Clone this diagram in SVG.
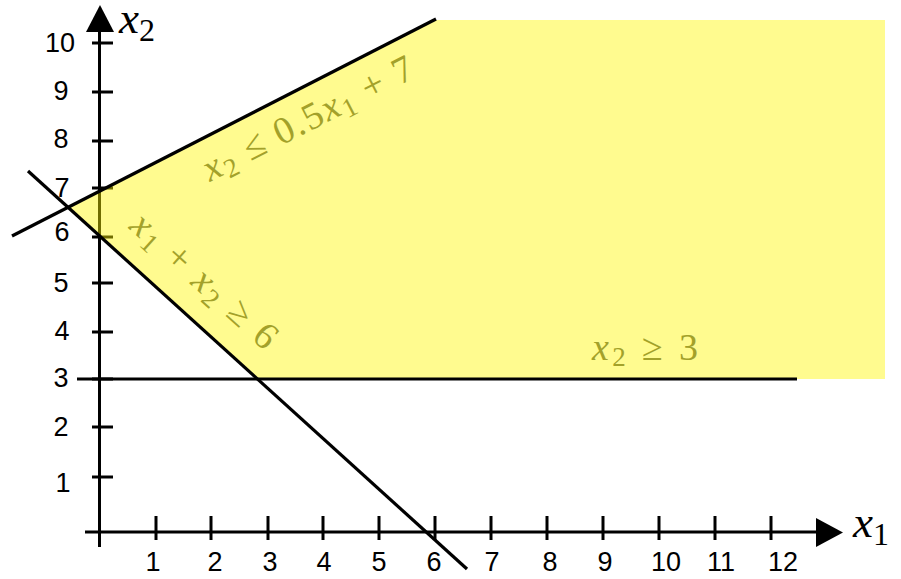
<svg xmlns="http://www.w3.org/2000/svg" width="901" height="579" viewBox="0 0 901 579">
<style>
.ax{stroke:#000;stroke-width:3;fill:none}
.tk{stroke:#000;stroke-width:3}
.num{font-family:"Liberation Sans",Arial,sans-serif;font-size:27px;fill:#000;text-anchor:middle}
.ln{stroke:#000;stroke-width:3.2;fill:none;stroke-linecap:butt}
.math{font-family:"Liberation Serif","Times New Roman",serif;font-size:38px;fill:#a3a12a}
.axl{font-family:"Liberation Serif","Times New Roman",serif;font-size:45px;fill:#000}
.it{font-style:italic}
</style>
<rect width="901" height="579" fill="#fff"/>
<g id="axes">
<line class="ax" x1="99.5" y1="30" x2="99.5" y2="547"/>
<line class="ax" x1="85" y1="532" x2="818" y2="532"/>
<polygon points="100,5 86,32 114,32" fill="#000"/>
<polygon points="843,532.5 816,518 816,547" fill="#000"/>
<text class="axl" x="119" y="33"><tspan class="it">x</tspan><tspan font-size="32" dy="8">2</tspan></text>
<text class="axl" x="853" y="537"><tspan class="it">x</tspan><tspan font-size="32" dy="8">1</tspan></text>
</g>
<g id="y-ticks">
<line class="tk" x1="92" y1="43" x2="113" y2="43"/>
<line class="tk" x1="92" y1="92" x2="113" y2="92"/>
<line class="tk" x1="92" y1="141" x2="113" y2="141"/>
<line class="tk" x1="92" y1="188" x2="113" y2="188"/>
<line class="tk" x1="92" y1="237" x2="113" y2="237"/>
<line class="tk" x1="92" y1="283" x2="113" y2="283"/>
<line class="tk" x1="92" y1="332" x2="113" y2="332"/>
<line class="tk" x1="92" y1="379" x2="113" y2="379"/>
<line class="tk" x1="92" y1="427" x2="113" y2="427"/>
<line class="tk" x1="92" y1="477" x2="113" y2="477"/>
<text class="num" x="60" y="52">10</text>
<text class="num" x="61" y="100">9</text>
<text class="num" x="61" y="148">8</text>
<text class="num" x="62" y="197">7</text>
<text class="num" x="62" y="241">6</text>
<text class="num" x="61" y="292">5</text>
<text class="num" x="62" y="340">4</text>
<text class="num" x="61" y="387">3</text>
<text class="num" x="61" y="436">2</text>
<text class="num" x="63" y="492">1</text>
</g>
<g id="x-ticks">
<line class="tk" x1="156" y1="516" x2="156" y2="540"/>
<line class="tk" x1="211" y1="516" x2="211" y2="540"/>
<line class="tk" x1="268" y1="516" x2="268" y2="540"/>
<line class="tk" x1="323" y1="516" x2="323" y2="540"/>
<line class="tk" x1="379" y1="516" x2="379" y2="540"/>
<line class="tk" x1="435" y1="516" x2="435" y2="540"/>
<line class="tk" x1="491" y1="516" x2="491" y2="540"/>
<line class="tk" x1="547" y1="516" x2="547" y2="540"/>
<line class="tk" x1="603" y1="516" x2="603" y2="540"/>
<line class="tk" x1="659" y1="516" x2="659" y2="540"/>
<line class="tk" x1="715" y1="516" x2="715" y2="540"/>
<line class="tk" x1="771" y1="516" x2="771" y2="540"/>
<text class="num" x="153" y="571">1</text>
<text class="num" x="215" y="571">2</text>
<text class="num" x="270" y="571">3</text>
<text class="num" x="324" y="571">4</text>
<text class="num" x="379" y="571">5</text>
<text class="num" x="434" y="571">6</text>
<text class="num" x="492" y="571">7</text>
<text class="num" x="550" y="571">8</text>
<text class="num" x="605" y="571">9</text>
<text class="num" x="666" y="571">10</text>
<text class="num" x="721" y="571">11</text>
<text class="num" x="783" y="571">12</text>
</g>
<g id="feasible-region">
<polygon points="68,207 434,20 885,20 885,379 257,379" fill="#fff700" fill-opacity="0.44"/>
</g>
<g id="constraint-lines">
<line class="ln" x1="12" y1="236" x2="436" y2="19"/>
<line class="ln" x1="28" y1="171" x2="467" y2="569"/>
<line class="ln" x1="77" y1="379" x2="797" y2="379"/>
</g>
<g id="labels">
<text class="math" transform="translate(210,182) rotate(-27)" textLength="232" lengthAdjust="spacing"><tspan class="it">x</tspan><tspan font-size="27" dy="6">2</tspan><tspan dy="-6"> ≤ 0.5</tspan><tspan class="it">x</tspan><tspan font-size="27" dy="6">1</tspan><tspan dy="-6"> + 7</tspan></text>
<text class="math" transform="translate(128,228) rotate(42)" textLength="184" lengthAdjust="spacing"><tspan class="it">x</tspan><tspan font-size="27" dy="6">1</tspan><tspan dy="-6"> + </tspan><tspan class="it">x</tspan><tspan font-size="27" dy="6">2</tspan><tspan dy="-6"> ≥ 6</tspan></text>
<text class="math" x="592" y="360" textLength="106" lengthAdjust="spacing"><tspan class="it">x</tspan><tspan font-size="27" dy="6">2</tspan><tspan dy="-6"> ≥ 3</tspan></text>
</g>
</svg>
